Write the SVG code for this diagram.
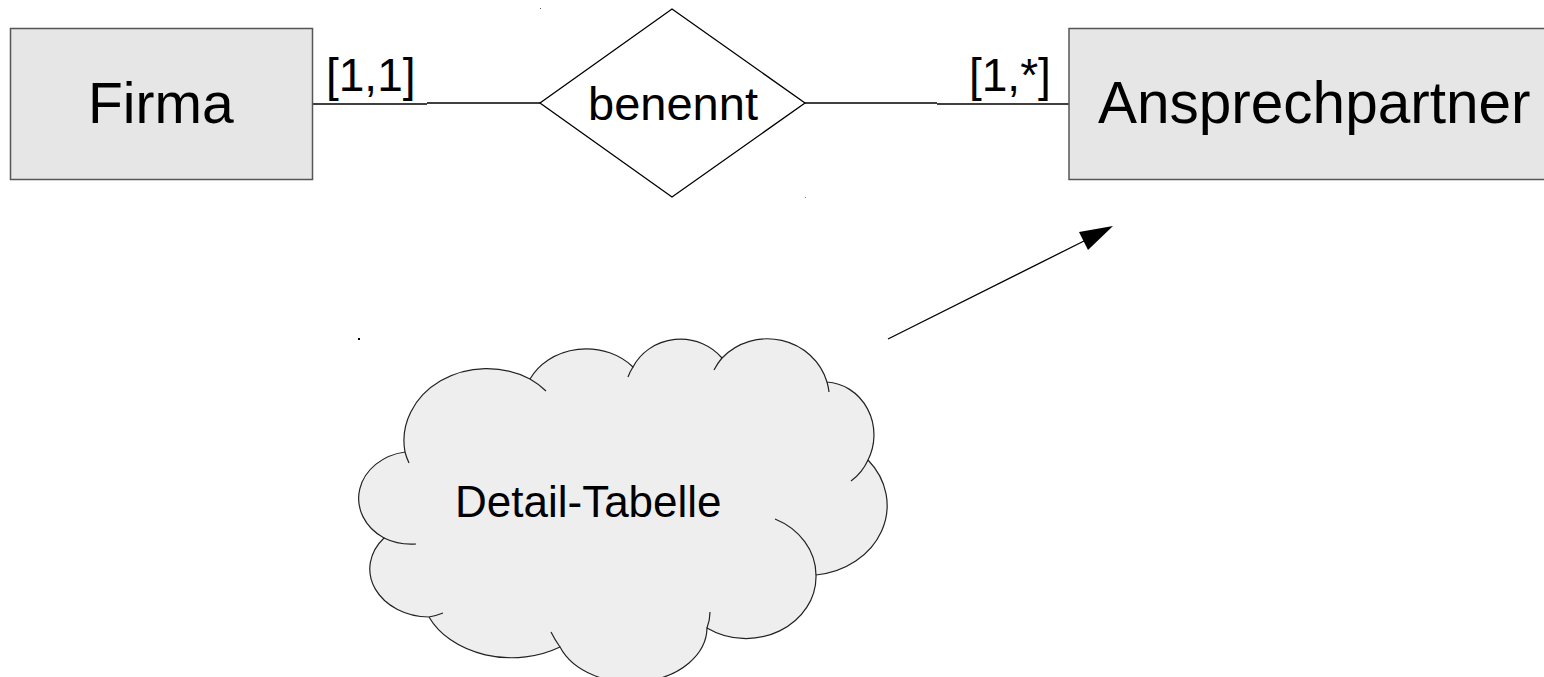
<svg xmlns="http://www.w3.org/2000/svg" width="1544" height="677" viewBox="0 0 1544 677">
<style>
.ent{fill:#e6e6e6;stroke:#555;stroke-width:1.5}
.t{font-family:"Liberation Sans",Arial,sans-serif;fill:#000}
.ln{fill:none;stroke:#000;stroke-width:1.3}
.cl{fill:#eeeeee;stroke:#222;stroke-width:1.2}
.cli{fill:none;stroke:#222;stroke-width:1.2}
</style>
<rect width="1544" height="677" fill="#fff"/>
<g id="connectors">
<path class="ln" d="M313 104 H427"/>
<path class="ln" d="M427 103 H540"/>
<path class="ln" d="M805 103 H937"/>
<path class="ln" d="M937 104 H1069" stroke="#666"/>
<path class="ln" d="M888 339 L1086 240"/>
<polygon points="1113,226 1079,232 1088,250" fill="#000"/>
<text class="t" x="326" y="91" font-size="46">[1,1]</text>
<text class="t" x="969" y="91" font-size="46">[1,*]</text>
</g>
<g id="firma">
<rect class="ent" x="10.5" y="28.5" width="302" height="151"/>
<text class="t" x="88" y="123" font-size="57">Firma</text>
</g>
<g id="benennt">
<polygon points="672,9 805,103 672,197 540,103" fill="#fff" stroke="#000" stroke-width="1.3"/>
<text class="t" x="673" y="120" font-size="47" text-anchor="middle">benennt</text>
</g>
<g id="ansprechpartner">
<rect class="ent" x="1069" y="28.5" width="490" height="151"/>
<text class="t" x="1098" y="123" font-size="58.5">Ansprechpartner</text>
</g>
<g id="detail-tabelle">
<path class="cl" d="M405 452 A83 72 0 0 1 530 379 A63 55 0 0 1 633 367 A53 50 0 0 1 722 358 A62 60 0 0 1 827 382 A50 53 0 0 1 868 460 A80 70 0 0 1 816 575 A70 62 0 0 1 707 628 A76 55 0 0 1 560 647 A90 68 0 0 1 429 617 A60 48 0 0 1 384 538 A55 47 0 0 1 405 452 Z"/>
<path class="cli" d="M409 463 A83 72 0 0 1 405 452 M530 379 A83 72 0 0 1 546 391 M628 377 A53 50 0 0 1 633 367 M714 370 A62 60 0 0 1 722 358 M827 382 A62 60 0 0 1 829 392 M868 460 A50 53 0 0 1 851 481 M775 519 A70 62 0 0 1 816 575 M710 612 Q710 620 707 628 M560 647 Q555 640 551 632 M443 613 A60 48 0 0 1 429 617 M416 544 A55 47 0 0 1 384 538"/>
<text class="t" x="455" y="517" font-size="44">Detail-Tabelle</text>
</g>
<rect x="358" y="338" width="2" height="2" fill="#000"/>
<rect x="540" y="8" width="1" height="1" fill="#555"/>
<rect x="805" y="197" width="1" height="1" fill="#888"/>
</svg>
